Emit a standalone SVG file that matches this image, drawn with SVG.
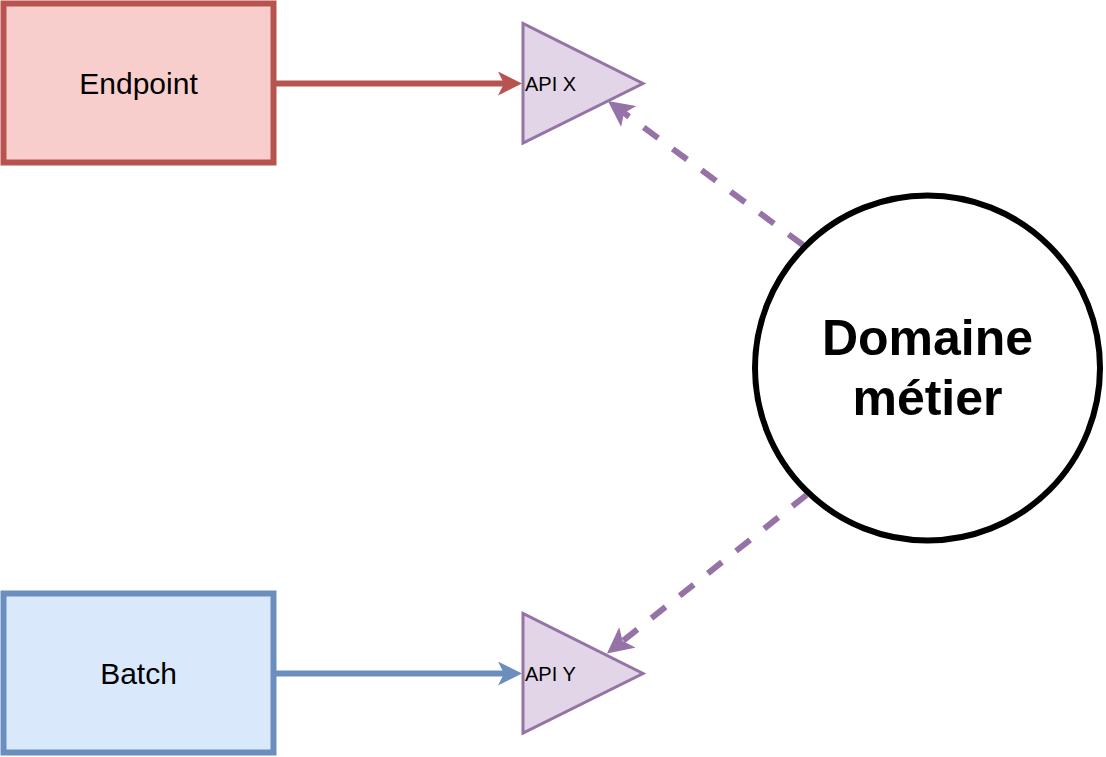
<svg xmlns="http://www.w3.org/2000/svg" width="1106" height="757" viewBox="0 0 1106 757">
<style>
text{font-family:"Liberation Sans",Arial,sans-serif;fill:#000}
.lbl{font-size:30px;text-anchor:middle}
.api{font-size:20px}
.big{font-size:50px;font-weight:bold;text-anchor:middle}
.tri{fill:#e1d5e7;stroke:#9673a6;stroke-width:3}
.conn{fill:none;stroke-width:6}
</style>
<defs>
<marker id="aRed" markerUnits="userSpaceOnUse" viewBox="0 0 24 24" markerWidth="24" markerHeight="24" refX="6" refY="12" orient="auto"><path d="M0,0 L24,12 L0,24 L6,12 Z" fill="#b85450"/></marker>
<marker id="aBlue" markerUnits="userSpaceOnUse" viewBox="0 0 24 24" markerWidth="24" markerHeight="24" refX="6" refY="12" orient="auto"><path d="M0,0 L24,12 L0,24 L6,12 Z" fill="#6c8ebf"/></marker>
<marker id="aPurple" markerUnits="userSpaceOnUse" viewBox="0 0 26 26" markerWidth="26" markerHeight="26" refX="6" refY="13" orient="auto"><path d="M0,0 L26,13 L0,26 L6,13 Z" fill="#9673a6"/></marker>
</defs>
<g id="connectors">
<path class="conn" d="M273.5,83.5 L504,83.5" stroke="#b85450" marker-end="url(#aRed)"/>
<path class="conn" d="M273.5,673.5 L504,673.5" stroke="#6c8ebf" marker-end="url(#aBlue)"/>
<path class="conn" d="M803,245 L624,112.9" stroke="#9673a6" stroke-dasharray="18 18" marker-end="url(#aPurple)"/>
<path class="conn" d="M806.5,495 L622.6,641.1" stroke="#9673a6" stroke-dasharray="18 18" marker-end="url(#aPurple)"/>
</g>
<g id="endpoint">
<rect x="3.5" y="3.5" width="270" height="159" fill="#f8cecc" stroke="#b85450" stroke-width="6"/>
<text class="lbl" x="138.5" y="93.5">Endpoint</text>
</g>
<g id="batch">
<rect x="3.5" y="593.5" width="270" height="159" fill="#dae8fc" stroke="#6c8ebf" stroke-width="6"/>
<text class="lbl" x="138.5" y="683.5">Batch</text>
</g>
<g id="apiX">
<polygon class="tri" points="523,23.5 523,143 643,83.5"/>
<text class="api" x="525" y="91">API X</text>
</g>
<g id="apiY">
<polygon class="tri" points="523,613.5 523,733 643,673.5"/>
<text class="api" x="525" y="681">API Y</text>
</g>
<g id="domaine">
<circle cx="927.5" cy="368" r="172.5" fill="#fff" stroke="#000" stroke-width="6"/>
<text class="big" x="927.5" y="355">Domaine</text>
<text class="big" x="927.5" y="415">métier</text>
</g>
</svg>
